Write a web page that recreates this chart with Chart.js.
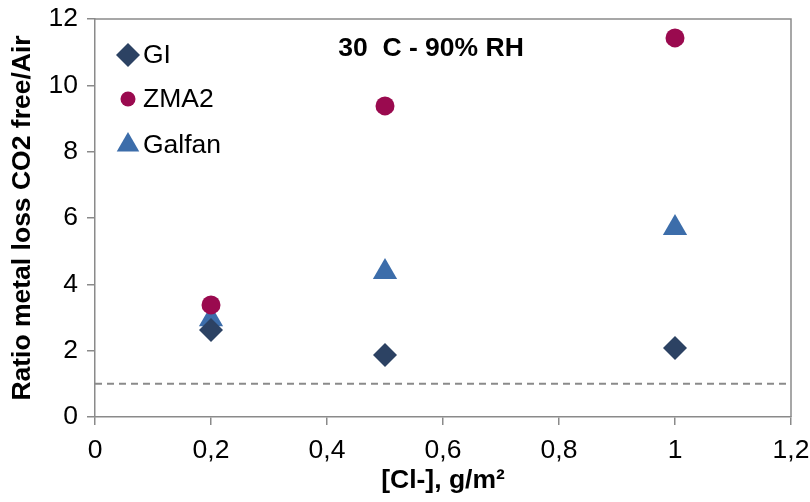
<!DOCTYPE html>
<html>
<head>
<meta charset="utf-8">
<script src="https://cdn.jsdelivr.net/npm/chart.js@4/dist/chart.umd.min.js"></script>
<style>
  body { margin: 0; background: #fff; }
  #wrap { width: 810px; height: 502px; }
</style>
</head>
<body>
<div id="wrap"><canvas id="chart" width="810" height="502"></canvas></div>
<script>
// Data
const chlorideLevels = [0.2, 0.5, 1];
const giRatio = [2.62, 1.87, 2.08];
const zma2Ratio = [3.38, 9.38, 11.43];
const galfanRatio = [2.95, 4.37, 5.70];
const referenceRatio = 1;
const xRange = [0, 1.2];
const yRange = [0, 12];
const seriesNames = ['GI', 'ZMA2', 'Galfan'];
const chartTitle = '30  C - 90% RH';

const FONT = '"Liberation Sans", Arial, sans-serif';
const GREY = '#8a8a8a';
const colors = { GI: '#2C4263', ZMA2: '#9A0A4F', Galfan: '#3C6DAA' };

const toPoints = (vals) => vals.map((v, i) => ({ x: chlorideLevels[i], y: v }));
const commaNum = (v) => String(Number(v.toFixed(1))).replace('.', ',');

// Legend + title drawn inside the plot area
const insidePlugin = {
  id: 'insideLegend',
  afterDraw(chart) {
    const ctx = chart.ctx;
    const a = chart.chartArea;
    ctx.save();
    ctx.strokeStyle = GREY;
    ctx.lineWidth = 1.5;
    ctx.beginPath();
    ctx.moveTo(a.left, a.top);
    ctx.lineTo(a.right, a.top);
    ctx.lineTo(a.right, a.bottom);
    ctx.stroke();

    const items = [
      { name: seriesNames[0], style: 'rectRot', r: 12, y: 55 },
      { name: seriesNames[1], style: 'circle', r: 7.5, y: 99 },
      { name: seriesNames[2], style: 'triangle', r: 13, y: 145 }
    ];
    items.forEach(it => {
      ctx.fillStyle = colors[it.name];
      Chart.helpers.drawPoint(ctx, { pointStyle: it.style, radius: it.r, rotation: 0, borderWidth: 0 }, 128, it.y);
      ctx.fillStyle = '#000';
      ctx.font = '26.5px ' + FONT;
      ctx.textAlign = 'left';
      ctx.textBaseline = 'middle';
      ctx.fillText(it.name, 143, it.y + 1);
    });

    ctx.font = 'bold 26.5px ' + FONT;
    ctx.textAlign = 'center';
    ctx.fillText(chartTitle, 431, 49);
    ctx.restore();
  }
};

new Chart(document.getElementById('chart'), {
  type: 'scatter',
  data: {
    datasets: [
      { label: seriesNames[0], data: toPoints(giRatio), pointStyle: 'rectRot', pointRadius: 12,
        backgroundColor: colors.GI, borderWidth: 0 },
      { label: seriesNames[1], data: toPoints(zma2Ratio), pointStyle: 'circle', pointRadius: 9.5,
        backgroundColor: colors.ZMA2, borderWidth: 0 },
      { label: seriesNames[2], data: toPoints(galfanRatio), pointStyle: 'triangle', pointRadius: 14,
        backgroundColor: colors.Galfan, borderWidth: 0 },
      { type: 'line', label: 'ref', data: [{ x: xRange[0], y: referenceRatio }, { x: xRange[1], y: referenceRatio }],
        borderColor: GREY, borderWidth: 2, borderDash: [7, 5], pointRadius: 0, fill: false }
    ]
  },
  options: {
    responsive: false,
    animation: false,
    layout: { padding: { top: 19, right: 19, left: 0, bottom: 0 } },
    plugins: { legend: { display: false }, tooltip: { enabled: false } },
    scales: {
      x: {
        type: 'linear', min: xRange[0], max: xRange[1],
        ticks: { stepSize: 0.2, color: '#000', font: { family: FONT, size: 26.5 }, padding: 10,
          callback: commaNum, maxRotation: 0 },
        grid: { drawOnChartArea: false, drawTicks: true, tickLength: 8, color: GREY, lineWidth: 1.5 },
        border: { color: GREY, width: 1.5 },
        title: { display: true, text: '[Cl-], g/m²', color: '#000',
          font: { family: FONT, size: 26.5, weight: 'bold' }, padding: { top: 0, bottom: 5 } },
        afterFit(s) { s.height = 85; s.paddingLeft = 0; s.paddingRight = 0; }
      },
      y: {
        type: 'linear', min: yRange[0], max: yRange[1],
        ticks: { stepSize: 2, color: '#000', font: { family: FONT, size: 26.5 }, padding: 9 },
        grid: { drawOnChartArea: false, drawTicks: true, tickLength: 8, color: GREY, lineWidth: 1.5 },
        border: { color: GREY, width: 1.5 },
        title: { display: true, text: 'Ratio metal loss CO2 free/Air', color: '#000',
          font: { family: FONT, size: 26.5, weight: 'bold' }, padding: { top: 7, bottom: 0 } },
        afterFit(s) { s.width = 95; s.paddingTop = 0; s.paddingBottom = 0; }
      }
    }
  },
  plugins: [insidePlugin]
});
</script>
</body>
</html>
